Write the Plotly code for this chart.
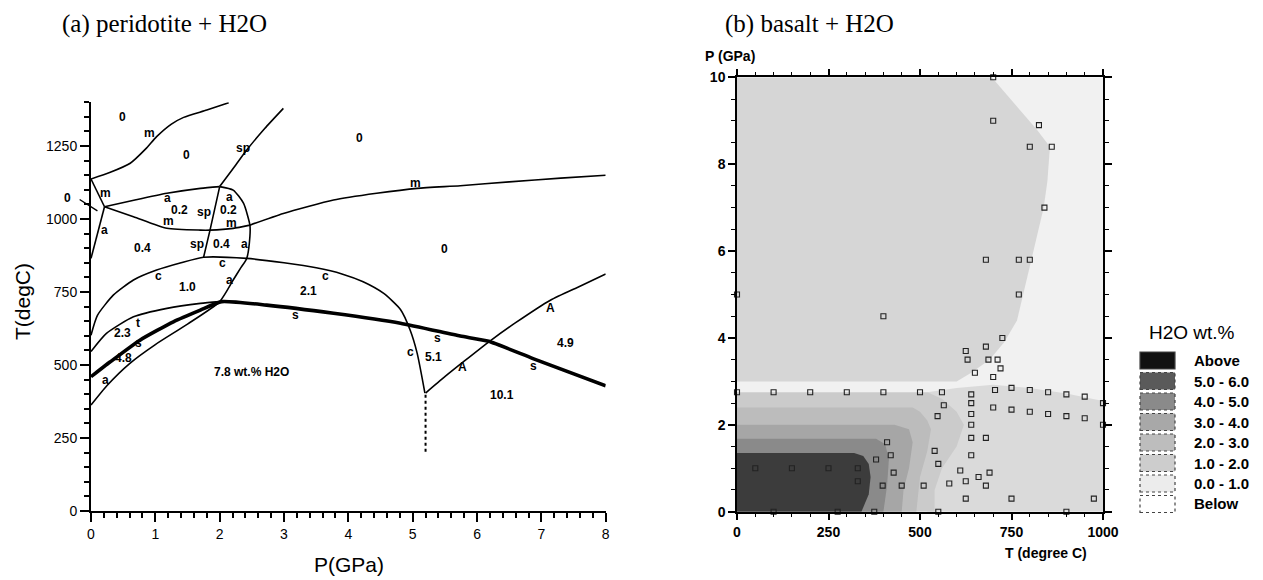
import plotly.graph_objects as go

# ---------------- panel (a): peridotite + H2O, P (GPa) vs T (degC) ----------------
melt_top_P = [0, 0.3, 0.61, 0.85, 1.02, 1.25, 1.44, 1.8, 2.14]
melt_top_T = [1137, 1160, 1191, 1240, 1282, 1325, 1348, 1373, 1398]
sp_upper_P = [2.0, 2.25, 2.42, 2.7, 2.99]
sp_upper_T = [1111, 1185, 1236, 1310, 1379]
m_left_P = [0, 0.21]
m_left_T = [1137, 1042]
a_left_P = [0.21, 0]
a_left_T = [1042, 865]
a_upper_P = [0.21, 0.7, 1.18, 1.7, 2.0]
a_upper_T = [1042, 1066, 1088, 1105, 1111]
a_curve_P = [0, 0.25, 0.6, 1.0, 1.5, 2.0, 2.21, 2.32, 2.42, 2.47, 2.47, 2.37, 2.21, 2.0]
a_curve_T = [363, 430, 505, 570, 640, 717, 791, 830, 865, 940, 979, 1054, 1099, 1111]
m_lower_P = [0.21, 0.66, 1.18, 1.7, 1.85, 2.21, 2.47]
m_lower_T = [1042, 1008, 968, 962, 962, 968, 979]
m_long_P = [2.47, 2.99, 3.77, 4.44, 5.07, 5.74, 6.5, 7.3, 8.0]
m_long_T = [979, 1019, 1065, 1088, 1105, 1114, 1127, 1140, 1150]
sp_mid_P = [1.75, 1.85, 2.0]
sp_mid_T = [869, 962, 1111]
c_curve_P = [0, 0.1, 0.35, 0.66, 1.02, 1.4, 1.75, 2.42, 3.0, 3.5, 3.9, 4.23, 4.55, 4.81, 4.96, 5.07, 5.19]
c_curve_T = [602, 670, 740, 791, 825, 850, 869, 865, 850, 833, 812, 785, 745, 690, 620, 540, 404]
t_curve_P = [0, 0.24, 0.66, 1.18, 1.7, 2.0]
t_curve_T = [546, 608, 665, 694, 711, 717]
s_thick_P = [0, 0.3, 0.76, 1.28, 1.7, 2.03, 2.73, 3.77, 4.81, 5.74, 6.18, 6.87, 8.0]
s_thick_T = [460, 511, 585, 648, 688, 717, 705, 677, 643, 599, 581, 522, 429]
A_line_P = [5.2, 5.5, 5.8, 6.2, 6.6, 7.14, 7.6, 8.0]
A_line_T = [404, 460, 513, 582, 645, 722, 770, 812]
dotted_P = [5.2, 5.2]
dotted_T = [398, 202]

lab_text = ["0", "m", "0", "sp", "0", "m", "m", "a", "0.2", "sp", "0.2", "a", "m", "m",
            "a", "0.4", "sp", "0.4", "a", "0", "c", "c", "c", "1.0", "a", "2.1",
            "t", "2.3", "s", "4.8", "a", "7.8 wt.% H2O", "s", "c", "5.1", "s",
            "A", "A", "4.9", "s", "10.1"]
lab_P = [0.49, 0.91, 1.49, 2.37, 4.17, 5.05, 0.23, 1.19, 1.38, 1.76, 2.14, 2.15, 1.2, 2.19,
         0.21, 0.8, 1.64, 2.03, 2.39, 5.49, 2.05, 1.05, 3.64, 1.5, 2.16, 3.38,
         0.73, 0.49, 0.74, 0.5, 0.22, 2.49, 3.18, 4.96, 5.33, 5.38,
         7.14, 5.77, 7.38, 6.88, 6.39]
lab_T = [1348, 1293, 1219, 1242, 1276, 1124, 1090, 1071, 1031, 1025, 1031, 1074, 993, 988,
         962, 900, 913, 913, 913, 896, 848, 805, 805, 766, 791, 753,
         645, 608, 576, 523, 449, 475, 671, 546, 526, 591,
         695, 493, 577, 497, 398]

# ---------------- panel (b): basalt + H2O, T (degree C) vs P (GPa) ----------------
levels = ["Above", "5.0 - 6.0", "4.0 - 5.0", "3.0 - 4.0", "2.0 - 3.0", "1.0 - 2.0", "0.0 - 1.0", "Below"]
level_colors = ["#111111", "#5a5a5a", "#8a8a8a", "#a8a8a8", "#bdbdbd", "#cdcdcd", "#ececec", "#ffffff"]

# filled regions (T, P), drawn in order
base_T = [0, 1000, 1000, 0]
base_P = [0, 0, 10, 10]
upper_T = [0, 0, 696, 819, 855, 848, 838, 815, 790, 765, 730, 690, 640, 600]
upper_P = [3.0, 10, 10, 8.8, 8.4, 7.6, 7.0, 6.2, 5.3, 4.4, 3.9, 3.5, 3.2, 3.0]
lowright_T = [520, 1000, 1000, 900, 800, 700, 600, 520]
lowright_P = [0, 0, 2.55, 2.72, 2.85, 2.92, 2.85, 2.75]
band1_T = [0, 0, 520, 560, 600, 620, 600, 560, 540, 540]
band1_P = [0, 2.75, 2.75, 2.6, 2.3, 2.0, 1.5, 1.0, 0.5, 0]
band2_T = [0, 0, 480, 500, 520, 530, 520, 500, 490]
band2_P = [0, 2.4, 2.4, 2.3, 2.1, 1.9, 1.4, 0.8, 0]
band3_T = [0, 0, 430, 470, 480, 470, 455, 450]
band3_P = [0, 2.0, 2.0, 1.9, 1.6, 1.0, 0.5, 0]
band4_T = [0, 0, 380, 405, 415, 410, 400]
band4_P = [0, 1.68, 1.68, 1.55, 1.2, 0.6, 0]
band5_T = [0, 0, 320, 345, 360, 365, 360, 345, 340]
band5_P = [0, 1.35, 1.35, 1.28, 1.1, 0.8, 0.4, 0.1, 0]

sq_T = [700, 825, 800, 860, 840, 680, 770, 800, 770, 400, 725, 625, 680, 630, 687, 712,
        650, 720, 700, 705, 750, 800, 850, 900, 950, 1000, 1000,
        0, 100, 200, 300, 400, 500, 560, 565, 548,
        640, 640, 640, 640, 640, 640, 680, 700, 750, 800, 850, 900, 950, 975,
        410, 420, 380, 428, 398, 450, 510, 580, 540, 550, 610, 625, 660, 690, 680,
        625, 750, 50, 150, 250, 330, 330, 0, 700, 100, 275, 375, 550, 900]
sq_P = [9.0, 8.9, 8.4, 8.4, 7.0, 5.8, 5.8, 5.8, 5.0, 4.5, 4.0, 3.7, 3.8, 3.5, 3.5, 3.5,
        3.2, 3.3, 3.1, 2.8, 2.85, 2.8, 2.75, 2.7, 2.65, 2.5, 2.0,
        2.75, 2.75, 2.75, 2.75, 2.75, 2.75, 2.75, 2.45, 2.2,
        2.7, 2.5, 2.25, 2.0, 1.7, 1.3, 1.7, 2.4, 2.35, 2.3, 2.25, 2.2, 2.15, 0.3,
        1.6, 1.3, 1.2, 0.9, 0.6, 0.6, 0.6, 0.65, 1.4, 1.1, 0.95, 0.7, 0.8, 0.9, 0.6,
        0.3, 0.3, 1.0, 1.0, 1.0, 1.0, 0.7, 5.0, 10.0, 0, 0, 0, 0, 0]

# the page body keeps its default 8px margin, so the figure sits 8px in
OFF = 8
W, H = 1263 - OFF, 580 - OFF


def px_x(v):
    return (v - OFF) / W


def px_y(v):
    return 1 - (v - OFF) / H


def paper_text(x, y, text, size, family="Liberation Sans, Arial", xanchor="center", angle=0):
    return dict(x=px_x(x), y=px_y(y), xref="paper", yref="paper", text=text, showarrow=False,
                xanchor=xanchor, yanchor="middle", textangle=angle,
                font=dict(family=family, size=size, color="black"))


fig = go.Figure()

# panel (a) lines
thin = [(melt_top_P, melt_top_T), (sp_upper_P, sp_upper_T), (m_left_P, m_left_T),
        (a_left_P, a_left_T), (a_upper_P, a_upper_T), (a_curve_P, a_curve_T),
        (m_lower_P, m_lower_T), (m_long_P, m_long_T), (sp_mid_P, sp_mid_T),
        (c_curve_P, c_curve_T), (t_curve_P, t_curve_T), (A_line_P, A_line_T)]
for xs, ys in thin:
    fig.add_trace(go.Scatter(x=xs, y=ys, mode="lines", line=dict(color="black", width=1.6, shape="spline", smoothing=0.6),
                             xaxis="x", yaxis="y", hoverinfo="skip"))
fig.add_trace(go.Scatter(x=s_thick_P, y=s_thick_T, mode="lines", line=dict(color="black", width=3.6, shape="spline", smoothing=0.5),
                         xaxis="x", yaxis="y", hoverinfo="skip"))
fig.add_trace(go.Scatter(x=dotted_P, y=dotted_T, mode="lines", line=dict(color="black", width=2, dash="dot"),
                         xaxis="x", yaxis="y", hoverinfo="skip"))

# panel (b) regions
regions = [(base_T, base_P, "#f1f1f1"), (upper_T, upper_P, "#d6d6d6"), (lowright_T, lowright_P, "#dadada"),
           (band1_T, band1_P, "#cbcbcb"), (band2_T, band2_P, "#bcbcbc"), (band3_T, band3_P, "#a6a6a6"),
           (band4_T, band4_P, "#8a8a8a"), (band5_T, band5_P, "#3c3c3c")]
for xs, ys, col in regions:
    fig.add_trace(go.Scatter(x=xs, y=ys, mode="lines", fill="toself", fillcolor=col, line=dict(width=0),
                             xaxis="x2", yaxis="y2", hoverinfo="skip"))
fig.add_trace(go.Scatter(x=sq_T, y=sq_P, mode="markers", cliponaxis=False,
                         marker=dict(symbol="square-open", size=5, color="#222222", line=dict(width=1.1)),
                         xaxis="x2", yaxis="y2", hoverinfo="skip"))

ann = []
for t, p, T in zip(lab_text, lab_P, lab_T):
    ann.append(dict(x=p, y=T, xref="x", yref="y", text="<b>" + t + "</b>", showarrow=False,
                    font=dict(family="Liberation Sans, Arial", size=12, color="black")))
# outside "0" next to the axis
ann.append(dict(x=0, y=1071, xref="x", yref="y", text="<b>0</b>", showarrow=False, xshift=-23,
                font=dict(family="Liberation Sans, Arial", size=12, color="black")))
# short tick crossing the T axis
ann.append(dict(x=0.1, y=1028, xref="x", yref="y", ax=-0.2, ay=1070, axref="x", ayref="y",
                text="", showarrow=True, arrowhead=0, arrowwidth=1.4, arrowcolor="black", standoff=0, startstandoff=0))

# titles
serif = "Liberation Serif, Times New Roman"
ann += [
    paper_text(60, 24, "(a) peridotite + H2O", 25, serif, "left"),
    paper_text(723, 24, "(b) basalt + H2O", 25, serif, "left"),
    paper_text(22, 302, "T(degC)", 21, angle=-90),
    paper_text(349, 564, "P(GPa)", 21),
    paper_text(703, 56, "<b>P (GPa)</b>", 14, xanchor="left"),
    paper_text(1003, 553, "<b>T (degree C)</b>", 14, xanchor="left"),
    paper_text(1192, 332, "H2O wt.%", 19),
]

shapes = []
for i, (name, col) in enumerate(zip(levels, level_colors)):
    yc = 360.5 + i * 20.5
    shapes.append(dict(type="rect", xref="paper", yref="paper", x0=px_x(1140), x1=px_x(1175),
                       y0=px_y(yc + 8.5), y1=px_y(yc - 8.5), fillcolor=col,
                       line=dict(color="#444444", width=1.2, dash="dot" if i > 0 else "solid")))
    ann.append(paper_text(1192, yc, "<b>" + name + "</b>", 15, xanchor="left"))

tickfont_a = dict(family="Liberation Sans, Arial", size=14, color="black")
tickfont_b = dict(family="Liberation Sans, Arial", size=14, color="black")

fig.update_layout(
    width=W, height=H, margin=dict(l=0, r=0, t=0, b=0, autoexpand=False),
    paper_bgcolor="white", plot_bgcolor="white", showlegend=False,
    xaxis=dict(domain=[px_x(91), px_x(605.7)], range=[0, 8], dtick=1, showgrid=False, zeroline=False, automargin=False,
               showline=True, linecolor="black", linewidth=2, ticks="outside", ticklen=9, tickwidth=2,
               tickcolor="black", tickfont=tickfont_a, anchor="y",
               minor=dict(dtick=0.2, ticks="outside", ticklen=5, tickwidth=1.5, tickcolor="black", showgrid=False)),
    yaxis=dict(domain=[px_y(511), px_y(102.2)], range=[0, 1400], dtick=250, showgrid=False, zeroline=False, automargin=False,
               showline=True, linecolor="black", linewidth=2, ticks="outside", ticklen=9, tickwidth=2,
               tickcolor="black", tickfont=tickfont_a, anchor="x",
               minor=dict(dtick=50, ticks="outside", ticklen=5, tickwidth=1.5, tickcolor="black", showgrid=False)),
    xaxis2=dict(domain=[px_x(737), px_x(1103)], range=[0, 1000], dtick=250, showgrid=False, zeroline=False, automargin=False,
                showline=True, linecolor="black", linewidth=1.5, mirror="ticks", ticks="outside", ticklen=7,
                tickwidth=1.5, tickcolor="black", tickfont=tickfont_b, anchor="y2", tickprefix="<b>", ticksuffix="</b>",
                minor=dict(dtick=50, ticks="outside", ticklen=4, tickwidth=1.2, tickcolor="black", showgrid=False)),
    yaxis2=dict(domain=[px_y(511.7), px_y(77.3)], range=[0, 10], dtick=2, showgrid=False, zeroline=False, automargin=False,
                showline=True, linecolor="black", linewidth=1.5, mirror="ticks", ticks="outside", ticklen=7,
                tickwidth=1.5, tickcolor="black", tickfont=tickfont_b, anchor="x2", tickprefix="<b>", ticksuffix="</b>",
                minor=dict(dtick=0.5, ticks="outside", ticklen=4, tickwidth=1.2, tickcolor="black", showgrid=False)),
    annotations=ann, shapes=shapes,
)

fig.write_html("out.html")
